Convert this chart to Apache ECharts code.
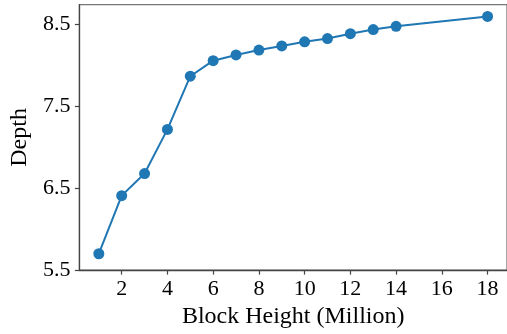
<!DOCTYPE html>
<html>
<head>
<meta charset="utf-8">
<script src="https://cdn.jsdelivr.net/npm/echarts@6/dist/echarts.min.js"></script>
<style>
html,body{margin:0;padding:0;background:#fff;}
#chart{width:507px;height:334px;}
</style>
</head>
<body>
<div id="chart"></div>
<script>
const blockHeights = [1, 2, 3, 4, 5, 6, 7, 8, 9, 10, 11, 12, 13, 14, 18];
const depths = [5.70, 6.41, 6.68, 7.22, 7.87, 8.06, 8.13, 8.19, 8.24, 8.29, 8.33, 8.39, 8.44, 8.48, 8.60];
const xTicks = [2, 4, 6, 8, 10, 12, 14, 16, 18];
const yTicks = [5.5, 6.5, 7.5, 8.5];

const chart = echarts.init(document.getElementById('chart'));
const axisColor = '#444';
const font = "'Liberation Serif', 'Times New Roman', serif";
chart.setOption({
  animation: false,
  grid: {left: 72.5, top: 4.7, width: 435.4, height: 270.3, show: true, borderColor: '#777', borderWidth: 1.3, backgroundColor: 'transparent'},
  xAxis: {
    type: 'value', min: 0.15, max: 18.85,
    name: 'Block Height (Million)', nameLocation: 'middle', nameGap: 32,
    nameTextStyle: {fontFamily: font, fontSize: 24, color: '#000'},
    axisLine: {show: true, lineStyle: {color: axisColor, width: 1.3}},
    axisTick: {show: true, length: 4.5, customValues: xTicks, lineStyle: {color: axisColor, width: 1.2}},
    axisLabel: {customValues: xTicks, fontFamily: font, fontSize: 22, color: '#000', margin: 8},
    splitLine: {show: false}
  },
  yAxis: {
    type: 'value', min: 5.5, max: 8.744,
    name: 'Depth', nameLocation: 'middle', nameGap: 45, nameRotate: 90,
    nameTextStyle: {fontFamily: font, fontSize: 24, color: '#000'},
    axisLine: {show: true, lineStyle: {color: axisColor, width: 1.3}},
    axisTick: {show: true, length: 4.5, customValues: yTicks, lineStyle: {color: axisColor, width: 1.2}},
    axisLabel: {customValues: yTicks, fontFamily: font, fontSize: 22, color: '#000', margin: 9,
      formatter: v => v.toFixed(1)},
    splitLine: {show: false}
  },
  series: [{
    type: 'line',
    data: blockHeights.map((x, i) => [x, depths[i]]),
    symbol: 'circle', symbolSize: 11,
    itemStyle: {color: '#1f77b4'},
    lineStyle: {color: '#1f77b4', width: 2}
  }]
});
</script>
</body>
</html>
